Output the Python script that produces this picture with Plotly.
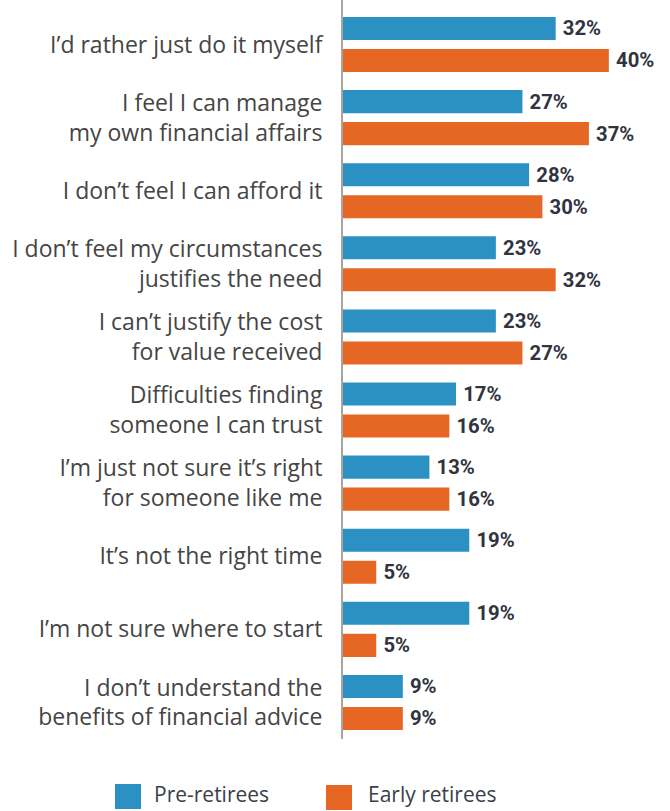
import plotly.graph_objects as go

categories = [
    "I’d rather just do it myself",
    "I feel I can manage<br>my own financial affairs",
    "I don’t feel I can afford it",
    "I don’t feel my circumstances<br>justifies the need",
    "I can’t justify the cost<br>for value received",
    "Difficulties finding<br>someone I can trust",
    "I’m just not sure it’s right<br>for someone like me",
    "It’s not the right time",
    "I’m not sure where to start",
    "I don’t understand the<br>benefits of financial advice",
]
pre_retirees = [32, 27, 28, 23, 23, 17, 13, 19, 19, 9]
early_retirees = [40, 37, 30, 32, 27, 16, 16, 5, 5, 9]
series_names = ["Pre-retirees", "Early retirees"]
colors = ["#2A91C2", "#E66724"]

W, H = 670, 811
ML, MR, MT, MB = 343, 0, 0, 72

fig = go.Figure()
for name, vals, col in zip(series_names, [pre_retirees, early_retirees], colors):
    fig.add_trace(go.Bar(
        y=categories, x=vals, name=name, orientation="h",
        marker=dict(color=col, line=dict(width=0)),
        text=[f"\u2009{v}%" for v in vals], textposition="outside",
        textfont=dict(family="Roboto", size=22, color="#2F3440", weight="bold"),
        cliponaxis=False, showlegend=False,
    ))

fig.update_layout(
    width=W, height=H,
    margin=dict(l=ML, r=MR, t=MT, b=MB),
    paper_bgcolor="white", plot_bgcolor="white",
    barmode="group", bargap=0.124, bargroupgap=0.28,
    xaxis=dict(range=[0, 49.2], visible=False, fixedrange=True),
    yaxis=dict(
        type="category", range=[9.50, -0.609],
        showline=True, linecolor="#A9A49E", linewidth=2,
        showgrid=False, zeroline=False, ticks="",
        tickfont=dict(family="Open Sans", size=23, color="#454545"),
        ticklabelstandoff=14,
    ),
    font=dict(family="Open Sans"),
)

# legend drawn as shapes + text
leg = [(115, 141, 784, 809, 154), (326, 352, 785, 810, 368)]
for (x0, x1, y0, y1, tx), name, col in zip(leg, series_names, colors):
    fig.add_shape(type="rect", xref="paper", yref="paper",
                  x0=(x0 - ML) / (W - ML - MR), x1=(x1 - ML) / (W - ML - MR),
                  y0=-(y0 - (H - MB)) / (H - MT - MB),
                  y1=-(y1 - (H - MB)) / (H - MT - MB),
                  fillcolor=col, line=dict(width=0))
    fig.add_annotation(xref="paper", yref="paper",
                       x=(tx - ML) / (W - ML - MR), y=-(810 - (H - MB)) / (H - MT - MB),
                       text=name, showarrow=False, xanchor="left", yanchor="bottom",
                       xshift=-2,
                       font=dict(family="Open Sans", size=21, color="#3A3F4A"))

fig.write_html("out.html")
